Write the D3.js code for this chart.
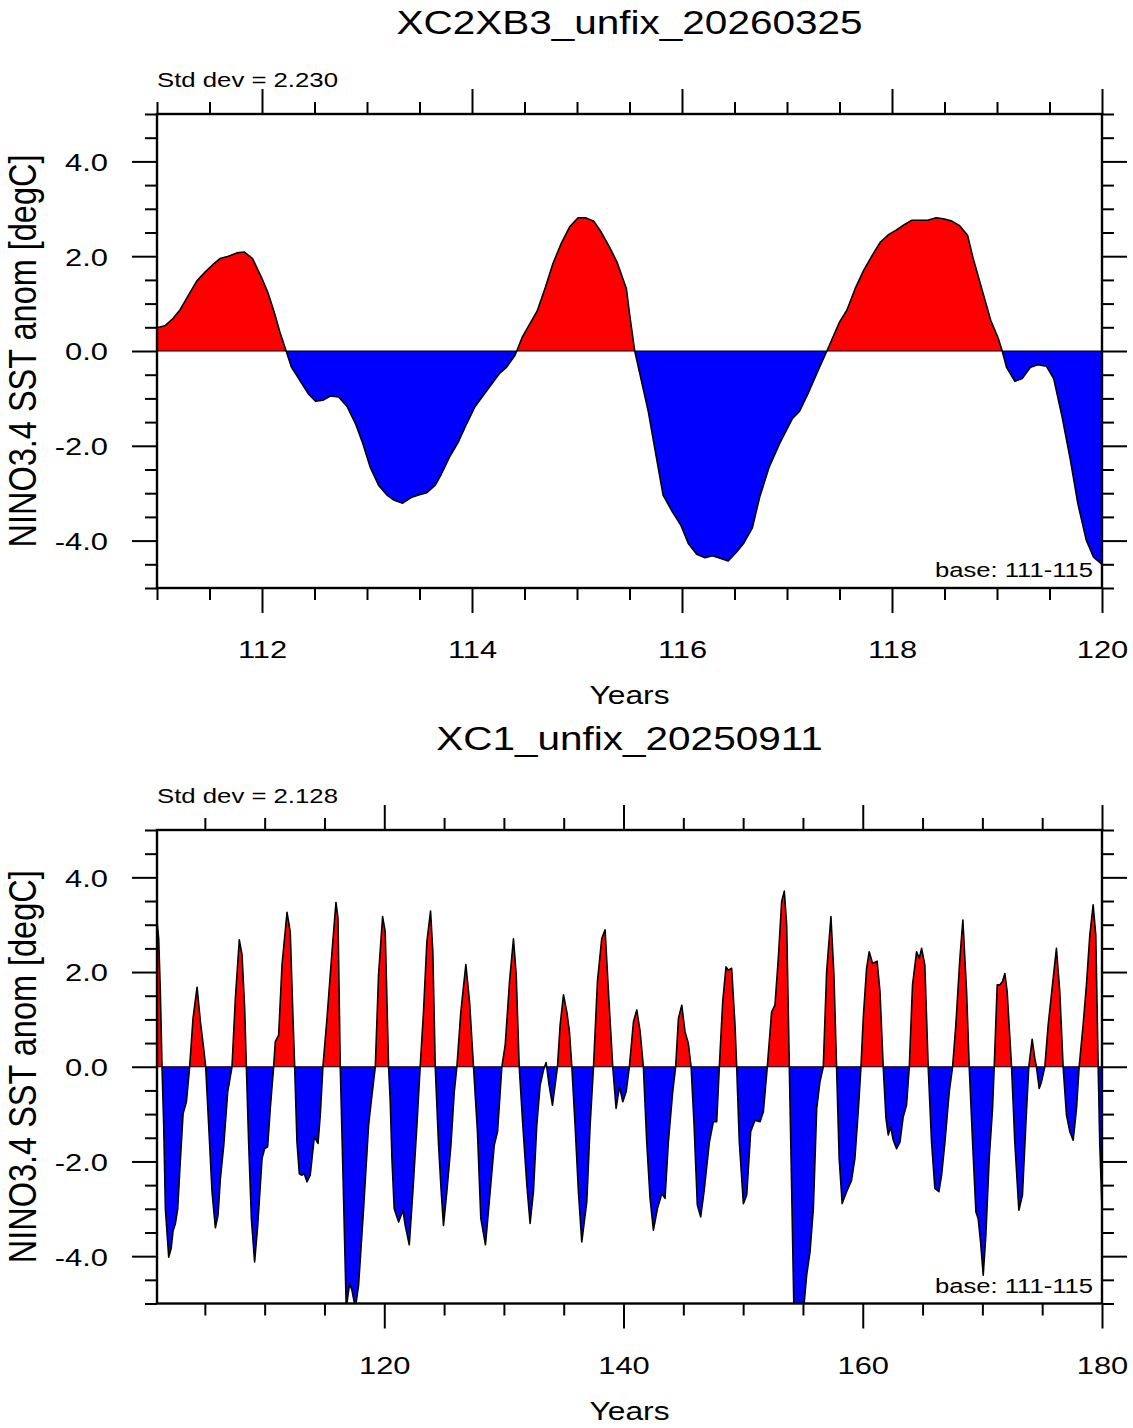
<!DOCTYPE html>
<html lang="en">
<head>
<meta charset="utf-8">
<title>NINO3.4 SST anomaly</title>
<script src="https://cdn.jsdelivr.net/npm/d3@7/dist/d3.min.js"></script>
<style>
  body { margin: 0; background: #fff; }
  text { font-family: "Liberation Sans", Arial, Helvetica, sans-serif; fill: #000; }
</style>
</head>
<body>
<div id="bod"></div>
<script>
// panel titles and annotations
const titles = ["XC2XB3_unfix_20260325", "XC1_unfix_20250911"]
const stdLabels = ["Std dev = 2.230", "Std dev = 2.128"]
const baseLabel = "base: 111-115"
const yLabel = "NINO3.4 SST anom [degC]"
const xLabel = "Years"

// tick values
const yMajor = [-4, -2, 0, 2, 4]
const yMinor = [-5, -4.5, -3.5, -3, -2.5, -1.5, -1, -0.5, 0.5, 1, 1.5, 2.5, 3, 3.5, 4.5, 5]
const xMajorA = [112, 114, 116, 118, 120]
const xMinorA = [111, 111.5, 112.5, 113, 113.5, 114.5, 115, 115.5, 116.5, 117, 117.5, 118.5, 119, 119.5]
const xMajorB = [120, 140, 160, 180]
const xMinorB = [105, 110, 115, 125, 130, 135, 145, 150, 155, 165, 170, 175]

// top panel: XC2XB3 (years 111-120)
const yearsA = [111.0, 111.08, 111.15, 111.22, 111.30, 111.38, 111.46, 111.54, 111.60, 111.68, 111.76, 111.83, 111.91,
  112.0, 112.06, 112.12, 112.17, 112.23, 112.28, 112.36, 112.44, 112.51, 112.58, 112.65, 112.73, 112.81, 112.89, 112.96,
  113.03, 113.11, 113.19, 113.26, 113.34, 113.42, 113.50, 113.57, 113.65, 113.71, 113.79, 113.87, 113.95,
  114.03, 114.14, 114.26, 114.33, 114.41, 114.48, 114.62, 114.70, 114.77, 114.85, 114.93,
  115.01, 115.08, 115.16, 115.23, 115.31, 115.38, 115.47, 115.50, 115.55, 115.62, 115.68, 115.75, 115.82, 115.91, 115.99,
  116.06, 116.14, 116.22, 116.29, 116.37, 116.44, 116.52, 116.59, 116.67, 116.74, 116.83, 116.93,
  117.05, 117.12, 117.20, 117.29, 117.38, 117.50, 117.57, 117.65, 117.73, 117.82, 117.89, 117.97,
  118.04, 118.12, 118.19, 118.27, 118.34, 118.42, 118.49, 118.57, 118.64, 118.72, 118.77, 118.85, 118.94,
  119.01, 119.05, 119.09, 119.17, 119.24, 119.32, 119.39, 119.47, 119.54, 119.62, 119.70, 119.77, 119.85, 119.92, 120.0]
const anomA = [0.49, 0.54, 0.68, 0.87, 1.18, 1.48, 1.67, 1.84, 1.95, 2.0, 2.07, 2.09, 1.95,
  1.53, 1.21, 0.79, 0.40, 0.0, -0.34, -0.62, -0.90, -1.06, -1.04, -0.95, -0.97, -1.17, -1.53, -1.95,
  -2.45, -2.83, -3.04, -3.15, -3.21, -3.09, -3.03, -2.99, -2.83, -2.59, -2.22, -1.92, -1.53,
  -1.17, -0.84, -0.48, -0.34, -0.09, 0.30, 0.84, 1.35, 1.84, 2.27, 2.62,
  2.81, 2.81, 2.74, 2.51, 2.19, 1.88, 1.32, 0.79, 0.0, -0.69, -1.29, -2.17, -3.04, -3.40, -3.68,
  -4.06, -4.29, -4.36, -4.32, -4.38, -4.43, -4.24, -4.05, -3.73, -3.08, -2.45, -1.95,
  -1.43, -1.27, -0.90, -0.44, 0.0, 0.61, 0.86, 1.32, 1.70, 2.05, 2.30, 2.46,
  2.55, 2.67, 2.76, 2.76, 2.76, 2.81, 2.79, 2.74, 2.65, 2.44, 1.98, 1.35, 0.65,
  0.28, 0.0, -0.34, -0.64, -0.58, -0.34, -0.29, -0.32, -0.58, -1.39, -2.31, -3.22, -3.99, -4.35, -4.50]

// bottom panel: XC1 (years 101-180)
const yearsB = [101.0, 101.14, 101.28, 101.42, 101.56, 101.70, 101.98, 102.18, 102.34, 102.54, 102.73, 102.96,
  103.18, 103.46, 103.73, 104.01, 104.35, 104.63, 104.90, 105.07, 105.32, 105.60, 105.88, 106.10, 106.30, 106.58, 106.91,
  107.27, 107.55, 107.88, 108.11, 108.33, 108.47, 108.66, 108.89, 109.16, 109.42, 109.78, 110.0, 110.25, 110.47, 110.75,
  110.89, 111.17, 111.45, 111.87, 112.14, 112.37, 112.51, 112.70, 112.90, 113.12, 113.31, 113.54, 113.81, 114.15, 114.46,
  114.65, 114.87, 115.21, 115.63, 115.96, 116.13, 116.32, 116.55, 116.82, 117.10, 117.30, 117.58, 117.85, 118.27, 118.69,
  118.97, 119.25, 119.52, 119.86, 120.08, 120.36, 120.50, 120.64, 120.83, 121.2, 121.56, 121.75, 122.09, 122.39, 122.73,
  123.0, 123.28, 123.56, 123.87, 124.06, 124.26, 124.54, 124.76, 124.95, 125.23, 125.57, 125.85, 126.07, 126.40, 126.82,
  127.13, 127.46, 127.79, 128.07, 128.46, 128.85, 129.19, 129.47, 129.83, 130.11, 130.47, 130.80, 131.03, 131.28, 131.58,
  131.92, 132.19, 132.47, 132.75, 133.03, 133.31, 133.53, 133.78, 134.06, 134.28, 134.48, 134.70, 134.98, 135.26, 135.48,
  135.68, 135.95, 136.23, 136.51, 136.93, 137.21, 137.49, 137.82, 138.18, 138.46, 138.74, 139.10, 139.38, 139.66, 139.94,
  140.22, 140.49, 140.83, 141.11, 141.39, 141.66, 141.94, 142.22, 142.5, 142.83, 143.2, 143.47, 143.75, 144.11, 144.36,
  144.59, 144.87, 145.14, 145.42, 145.65, 145.90, 146.17, 146.45, 146.73, 147.18, 147.51, 147.79, 148.01, 148.29, 148.57,
  148.76, 149.04, 149.32, 149.46, 149.68, 150.02, 150.30, 150.63, 150.99, 151.41, 151.69, 152.02, 152.38, 152.66, 152.94,
  153.22, 153.44, 153.64, 153.86, 154.06, 154.25, 155.03, 155.31, 155.59, 155.87, 156.15, 156.42, 156.70, 156.98, 157.34,
  157.59, 157.81, 158.03, 158.28, 158.65, 159.06, 159.34, 159.62, 159.85, 160.04, 160.32, 160.54, 160.82, 161.2, 161.44,
  161.71, 161.94, 162.13, 162.33, 162.55, 162.83, 163.11, 163.38, 163.66, 163.89, 164.16, 164.50, 164.72, 164.92, 165.19,
  165.47, 165.75, 166.03, 166.36, 166.59, 166.87, 167.23, 167.51, 167.78, 168.12, 168.37, 168.68, 168.90, 169.18, 169.46,
  169.65, 169.85, 170.07, 170.29, 170.57, 170.85, 170.99, 171.24, 171.46, 171.68, 171.88, 172.07, 172.44, 172.71, 173.05,
  173.35, 173.63, 173.88, 174.16, 174.38, 174.52, 174.75, 174.94, 175.22, 175.50, 175.86, 176.19, 176.47, 176.75, 177.03,
  177.31, 177.59, 177.87, 178.09, 178.42, 178.70, 178.98, 179.26, 179.48, 179.68, 179.81, 180.0]
const anomB = [3.07, 2.71, 1.59, 0, -1.23, -3.0, -4.02, -3.84, -3.47, -3.31, -3.0, -1.94,
  -0.99, -0.74, 0, 1.02, 1.68, 0.95, 0.39, 0, -1.23, -2.64, -3.40, -3.14, -2.36, -1.66, -0.53,
  0, 1.44, 2.68, 2.36, 1.23, 0, -1.59, -3.21, -4.12, -3.35, -1.94, -1.73, -1.69, -0.88, 0,
  0.53, 0.67, 2.15, 3.26, 2.85, 1.02, 0, -1.59, -2.26, -2.29, -2.26, -2.43, -2.29, -1.48, -1.62,
  -1.02, 0, 1.02, 2.43, 3.47, 3.14, 0, -2.29, -5.1, -4.58, -4.72, -5.1, -4.62, -3.0, -1.23,
  -0.60, 0, 1.94, 3.17, 2.85, 0, -0.74, -1.94, -3.0, -3.28, -3.03, -3.35, -3.76, -2.64, -1.23,
  0, 1.16, 2.64, 3.29, 2.43, 0, -1.66, -2.64, -3.35, -2.64, -1.66, -0.53, 0, 1.16, 2.16,
  1.37, 0, -1.37, -3.2, -3.76, -2.64, -1.66, -1.37, 0, 0.46, 1.80, 2.70, 1.94, 0, -1.23,
  -2.50, -3.31, -2.64, -1.23, -0.39, -0.07, 0.09, -0.39, -0.81, -0.39, 0, 0.88, 1.52, 1.16, 0.74,
  0, -1.23, -2.64, -3.70, -2.85, -1.23, 0, 1.80, 2.71, 2.89, 1.59, 0, -0.88, -0.42, -0.74,
  -0.53, 0, 0.95, 1.20, 0.74, 0, -1.59, -2.78, -3.45, -3.0, -2.68, -2.78, -1.59, -0.53, 0,
  1.02, 1.30, 0.74, 0.49, 0, -1.23, -2.92, -3.17, -2.64, -1.59, -1.16, -1.16, 0, 1.37, 2.11,
  2.04, 2.08, 0.88, 0, -1.59, -2.89, -2.71, -1.37, -1.13, -1.16, -0.95, 0, 1.16, 1.30, 2.29,
  3.49, 3.71, 3.0, 0, -2.64, -5.2, -5.2, -4.40, -3.91, -3.0, -0.88, -0.32, 0, 2.01, 3.17,
  1.94, 0, -1.94, -2.89, -2.64, -2.40, -1.94, -0.95, 0, 1.02, 2.08, 2.43, 2.18, 2.23, 1.59,
  0, -1.09, -1.44, -1.27, -1.55, -1.73, -1.59, -1.06, -0.81, 0, 1.73, 2.43, 2.29, 2.50, 2.15,
  0, -1.59, -2.57, -2.64, -2.29, -1.59, -0.53, 0, 0.88, 2.29, 3.10, 1.59, 0, -1.59, -3.07,
  -3.21, -3.70, -4.40, -3.56, -1.94, -0.88, 0, 1.73, 1.73, 1.80, 1.97, 1.59, 0, -1.59, -3.03,
  -2.71, -1.23, 0, 0.58, 0.18, 0, -0.46, -0.32, 0, 0.88, 1.73, 2.50, 1.59, 0, -1.02,
  -1.37, -1.55, -0.88, 0, 0.88, 1.73, 2.78, 3.42, 2.78, 0, -1.59, -3.0]

const W = 1133, H = 1428
const left = 157, right = 1102
// the text in the original plot is drawn a bit wider than tall
const stretch = 1.25

const svg = d3.select("#bod").append("svg")
  .attr("width", W)
  .attr("height", H)
  .style("display", "block")

svg.append("rect").attr("width", W).attr("height", H).attr("fill", "#fff")

const panels = [
  {id: "a", top: 114, bottom: 588, xDomain: [111, 120], years: yearsA, anom: anomA,
    xMajor: xMajorA, xMinor: xMinorA, title: titles[0], std: stdLabels[0]},
  {id: "b", top: 830, bottom: 1303.5, xDomain: [101, 180], years: yearsB, anom: anomB,
    xMajor: xMajorB, xMinor: xMinorB, title: titles[1], std: stdLabels[1]}
]

panels.forEach(p => drawPanel(p))

// horizontal text, stretched sideways
function addText(parent, x, y, str, size, anchor) {
  return parent.append("text")
    .attr("transform", "translate(" + x + "," + y + ") scale(" + stretch + ",1)")
    .attr("text-anchor", anchor)
    .attr("font-size", size)
    .text(str)
}

function drawPanel(p) {
  const h = p.bottom - p.top
  const w = right - left
  const data = p.years.map((yr, i) => ({year: yr, val: p.anom[i]}))

  const xScale = d3.scaleLinear().domain(p.xDomain).range([0, w])
  const yScale = d3.scaleLinear().domain([-5, 5]).range([h, 0])

  const g = svg.append("g").attr("transform", "translate(" + left + "," + p.top + ")")

  const defs = g.append("defs")
  defs.append("clipPath").attr("id", "pos-" + p.id)
    .append("rect").attr("width", w).attr("height", yScale(0))
  defs.append("clipPath").attr("id", "neg-" + p.id)
    .append("rect").attr("y", yScale(0)).attr("width", w).attr("height", h - yScale(0))
  defs.append("clipPath").attr("id", "plot-" + p.id)
    .append("rect").attr("width", w).attr("height", h)

  const area = d3.area()
    .x(d => xScale(d.year))
    .y0(yScale(0))
    .y1(d => yScale(d.val))

  const line = d3.line()
    .x(d => xScale(d.year))
    .y(d => yScale(d.val))

  g.append("path").datum(data)
    .attr("clip-path", "url(#pos-" + p.id + ")")
    .attr("fill", "#ff0000")
    .attr("d", area)
  g.append("path").datum(data)
    .attr("clip-path", "url(#neg-" + p.id + ")")
    .attr("fill", "#0000ff")
    .attr("d", area)

  // zero reference line
  g.append("line")
    .attr("x1", 0).attr("x2", w)
    .attr("y1", yScale(0)).attr("y2", yScale(0))
    .attr("stroke", "#000").attr("stroke-width", 1.2)

  g.append("path").datum(data)
    .attr("clip-path", "url(#plot-" + p.id + ")")
    .attr("fill", "none")
    .attr("stroke", "#000")
    .attr("stroke-width", 1.6)
    .attr("stroke-linejoin", "round")
    .attr("d", line)

  // axes, ticks pointing outward on all four sides
  const styleAxis = sel => {
    sel.select(".domain").remove()
    sel.selectAll(".tick line").attr("stroke", "#000").attr("stroke-width", 2)
    sel.attr("font-family", null).attr("font-size", 24.7)
  }

  g.append("g").call(d3.axisLeft(yScale).tickValues(yMinor).tickSize(12).tickFormat("")).call(styleAxis)
  const yAx = g.append("g").call(d3.axisLeft(yScale).tickValues(yMajor).tickSize(25)
    .tickFormat(d => d.toFixed(1))).call(styleAxis)
  yAx.selectAll("text")
    .attr("x", null).attr("dy", "0.36em")
    .attr("transform", "translate(-49,0) scale(" + stretch + ",1)")

  g.append("g").attr("transform", "translate(" + w + ",0)")
    .call(d3.axisRight(yScale).tickValues(yMinor).tickSize(12).tickFormat("")).call(styleAxis)
  g.append("g").attr("transform", "translate(" + w + ",0)")
    .call(d3.axisRight(yScale).tickValues(yMajor).tickSize(25).tickFormat("")).call(styleAxis)

  g.append("g").call(d3.axisTop(xScale).tickValues(p.xMinor).tickSize(12).tickFormat("")).call(styleAxis)
  g.append("g").call(d3.axisTop(xScale).tickValues(p.xMajor).tickSize(25).tickFormat("")).call(styleAxis)

  g.append("g").attr("transform", "translate(0," + h + ")")
    .call(d3.axisBottom(xScale).tickValues(p.xMinor).tickSize(12).tickFormat("")).call(styleAxis)
  const xAx = g.append("g").attr("transform", "translate(0," + h + ")")
    .call(d3.axisBottom(xScale).tickValues(p.xMajor).tickSize(25).tickFormat(d3.format("d"))).call(styleAxis)
  xAx.selectAll("text")
    .attr("y", null).attr("dy", null)
    .attr("transform", "translate(0,70) scale(" + stretch + ",1)")

  // frame
  g.append("rect")
    .attr("width", w).attr("height", h)
    .attr("fill", "none").attr("stroke", "#000").attr("stroke-width", 2.4)

  // labels
  addText(svg, left + w / 2, p.top - 80, p.title, 32.4, "middle")
  addText(svg, left, p.top - 27, p.std, 20.6, "start")
  addText(g, w - 9, h - 11, baseLabel, 20.5, "end")
  addText(svg, left + w / 2, p.bottom + 116, xLabel, 25.4, "middle")

  svg.append("text")
    .attr("transform", "translate(36," + (p.top + h / 2) + ") scale(1.2,1) rotate(-90)")
    .attr("text-anchor", "middle").attr("font-size", 32.5)
    .text(yLabel)
}
</script>
</body>
</html>
